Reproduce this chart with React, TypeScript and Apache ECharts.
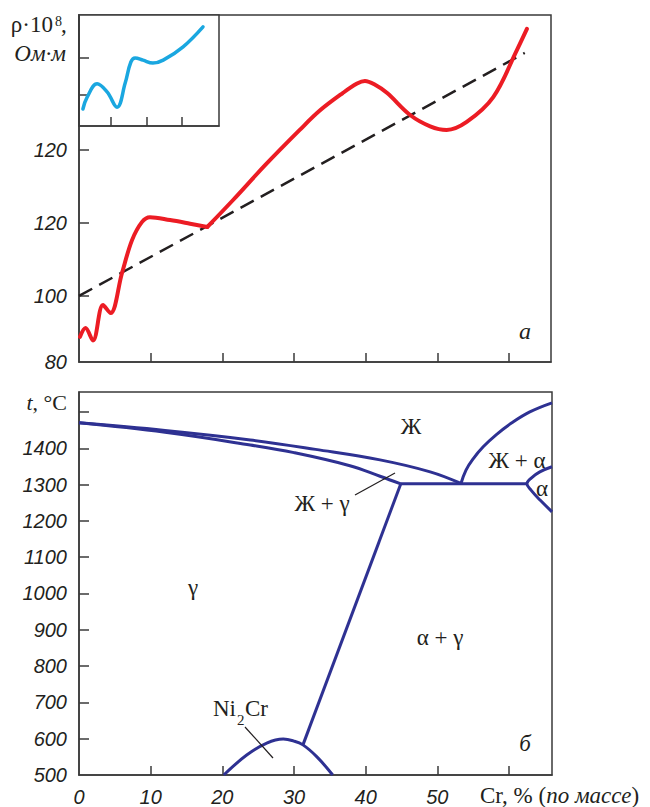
import React, { useEffect, useRef } from "react";
import * as echarts from "echarts";

// ---- Data ----
// Resistivity ρ·10^8 (Ом·м) vs Cr, mass %
const rhoCurveA: [number, number][] = [
  [0.14, 88.8], [0.9, 91.2], [1.95, 87.8], [3.35, 97.5], [4.4, 95.3], [6.0, 106.3],
  [7.4, 115.3], [8.8, 120.3], [9.9, 121.6], [12.7, 120.8], [15.5, 119.8], [17.9, 118.9],
];
const rhoCurveB: [number, number][] = [
  [17.9, 118.9], [21.5, 126.3], [26.0, 135.9], [30.8, 145.5], [33.6, 150.8], [36.8, 155.6],
  [38.8, 158.2], [39.9, 158.9], [41.2, 158.0], [43.0, 155.6], [46.2, 149.6], [49.0, 146.5],
  [51.3, 145.5], [54.1, 147.7], [57.8, 154.5], [61.1, 167.4], [62.5, 173.2],
];
const rhoTrend: [number, number][] = [[0, 100], [62.2, 166.6]];
// inset curve (relative units)
const insetCurve: [number, number][] = [
  [0.11, 0.46], [0.23, 0.78], [0.51, 1.14], [0.79, 0.92], [1.07, 0.51], [1.3, 1.16],
  [1.46, 1.73], [1.58, 1.84], [1.8, 1.78], [2.08, 1.7], [2.37, 1.78], [2.93, 2.14], [3.49, 2.68],
];
// Phase diagram Ni–Cr, t °C vs Cr mass %
const liquidusGamma: [number, number][] = [
  [0, 1470], [12, 1449], [23.9, 1423], [33, 1397], [42, 1368], [49, 1335], [53.3, 1303],
];
const solidusGamma: [number, number][] = [
  [0, 1470], [12, 1444], [23.9, 1409], [30, 1388], [37.8, 1352], [42, 1323], [44.9, 1302],
];
const eutecticLine: [number, number][] = [[44.9, 1302], [62.4, 1302]];
const liquidusAlpha: [number, number][] = [
  [53.3, 1303], [54.0, 1340], [55.0, 1371], [56.4, 1404], [58.2, 1437], [60.4, 1470],
  [62.9, 1500], [66, 1525],
];
const solvusAlpha: [number, number][] = [
  [66, 1349], [64.3, 1335], [63.1, 1318], [62.5, 1302], [63.1, 1284], [64.3, 1258], [66, 1225],
];
const solvusGamma: [number, number][] = [[44.9, 1302], [31.25, 583]];
const ni2crDome: [number, number][] = [
  [20.2, 500], [23.4, 555], [26.2, 588], [28.5, 599], [29.9, 594], [31.25, 583], [33.2, 550], [35.4, 500],
];
// tick labels
const rhoTickValues = [100, 120, 140];
const rhoLabelValues = [81.9, 100, 120, 140];
const rhoLabelTexts = ["80", "100", "120", "120"];
const crLabelValues = [0, 10, 20, 30, 40, 50];
const crTickValues = [10, 20, 30, 40, 50, 60];
const tLabelValues = [500, 600, 700, 800, 900, 1000, 1100, 1200, 1300, 1400];
const tTickValues = [600, 700, 800, 900, 1000, 1100, 1200, 1300, 1400, 1500];

const INK = "#231f20";
const FRAME = "#3a3a3a";
const NAVY = "#2e3192";
const SANS = "'Liberation Sans', Arial, sans-serif";
const SERIF = "'Liberation Serif', 'Times New Roman', serif";

const tickLabelStyle = {
  color: INK,
  fontFamily: SANS,
  fontStyle: "italic" as const,
  fontSize: 20,
};

function App() {
  const ref = useRef<HTMLDivElement>(null);
  useEffect(() => {
    if (!ref.current) return;
    const chart = echarts.init(ref.current, undefined, { renderer: "svg" });

    const axisLine = { show: true, lineStyle: { color: FRAME, width: 1.5 } };
    const tick = (vals: number[], len = 10) => ({
      show: true,
      inside: true,
      length: len,
      customValues: vals,
      lineStyle: { color: FRAME, width: 1.5 },
    });

    const phaseSeries = (data: [number, number][], smooth: number | boolean = 0.4) => ({
      type: "line" as const,
      xAxisIndex: 2,
      yAxisIndex: 2,
      data,
      smooth,
      symbol: "none",
      lineStyle: { color: NAVY, width: 3 },
      silent: true,
    });

    const text = (
      t: string,
      x: number,
      y: number,
      opts: Record<string, unknown> = {}
    ) => ({
      type: "text" as const,
      x,
      y,
      z: 100,
      style: {
        text: t,
        fill: INK,
        fontFamily: SERIF,
        fontSize: 23,
        align: "center",
        verticalAlign: "middle",
        ...opts,
      },
    });

    const richTitle = (t: string, x: number, y: number, align: string, size: number) => ({
      type: "text" as const,
      x,
      y,
      z: 100,
      style: {
        text: t,
        align,
        verticalAlign: "middle",
        rich: {
          i: { fontFamily: SERIF, fontStyle: "italic", fontSize: size, lineHeight: size, fill: INK },
          r: { fontFamily: SERIF, fontSize: size, lineHeight: size, fill: INK },
        },
      },
    });

    const option: any = {
      animation: false,
      backgroundColor: "#ffffff",
      grid: [
        { left: 79, top: 15, width: 472, height: 347, show: true, borderColor: FRAME, borderWidth: 1.5, backgroundColor: "transparent", containLabel: false, outerBoundsMode: "none" },
        { left: 79, top: 15, width: 140, height: 111, show: true, borderColor: FRAME, borderWidth: 1.5, backgroundColor: "#ffffff", containLabel: false, outerBoundsMode: "none" },
        { left: 79, top: 392, width: 473, height: 383, show: true, borderColor: FRAME, borderWidth: 1.5, backgroundColor: "transparent", containLabel: false, outerBoundsMode: "none" },
      ],
      xAxis: [
        {
          gridIndex: 0, type: "value", min: 0, max: 65.86,
          axisLine, axisTick: tick(crTickValues, 9), axisLabel: { show: false }, splitLine: { show: false },
        },
        {
          gridIndex: 1, type: "value", min: 0, max: 3.94,
          axisLine, axisTick: tick([0.9, 1.9, 2.9], 9), axisLabel: { show: false }, splitLine: { show: false },
        },
        {
          gridIndex: 2, type: "value", min: 0, max: 66,
          axisLine, axisTick: tick(crTickValues, 9),
          axisLabel: { ...tickLabelStyle, margin: 12, customValues: crLabelValues, formatter: (v: number) => String(Math.round(v)) },
          splitLine: { show: false },
        },
      ],
      yAxis: [
        {
          gridIndex: 0, type: "value", min: 81.9, max: 177,
          axisLine, axisTick: tick(rhoTickValues),
          axisLabel: {
            ...tickLabelStyle, margin: 12, customValues: rhoLabelValues,
            formatter: (v: number) => {
              let best = 0;
              rhoLabelValues.forEach((lv, i) => {
                if (Math.abs(lv - v) < Math.abs(rhoLabelValues[best] - v)) best = i;
              });
              return rhoLabelTexts[best];
            },
          },
          splitLine: { show: false },
        },
        {
          gridIndex: 1, type: "value", min: 0, max: 3,
          axisLine, axisTick: tick([0.84, 1.84]), axisLabel: { show: false }, splitLine: { show: false },
        },
        {
          gridIndex: 2, type: "value", min: 500, max: 1555,
          axisLine, axisTick: tick(tTickValues),
          axisLabel: { ...tickLabelStyle, margin: 12, customValues: tLabelValues, formatter: (v: number) => String(Math.round(v)) },
          splitLine: { show: false },
        },
      ],
      series: [
        {
          type: "line", xAxisIndex: 0, yAxisIndex: 0, data: rhoTrend, symbol: "none", silent: true,
          lineStyle: { color: INK, width: 2.5, type: [15, 8] },
        },
        {
          type: "line", xAxisIndex: 0, yAxisIndex: 0, data: rhoCurveA, smooth: 0.35, symbol: "none", silent: true,
          lineStyle: { color: "#ec1c24", width: 4, cap: "round", join: "round" },
        },
        {
          type: "line", xAxisIndex: 0, yAxisIndex: 0, data: rhoCurveB, smooth: 0.35, symbol: "none", silent: true,
          lineStyle: { color: "#ec1c24", width: 4, cap: "round", join: "round" },
        },
        {
          type: "line", xAxisIndex: 1, yAxisIndex: 1, data: insetCurve, smooth: 0.4, symbol: "none", silent: true,
          lineStyle: { color: "#1aa7e0", width: 3.5, cap: "round" },
        },
        phaseSeries(liquidusGamma),
        phaseSeries(solidusGamma),
        phaseSeries(eutecticLine, false),
        phaseSeries(liquidusAlpha),
        phaseSeries(solvusAlpha),
        phaseSeries(solvusGamma, false),
        phaseSeries(ni2crDome),
      ],
      graphic: [
        // Y axis title, top
        text("ρ·10", 53, 36, { align: "right", verticalAlign: "bottom", fontSize: 23 }),
        text("8", 55, 21, { align: "left", fontSize: 14 }),
        text(",", 61, 36, { align: "left", verticalAlign: "bottom", fontSize: 23 }),
        text("Ом·м", 66, 65, { align: "right", verticalAlign: "bottom", fontStyle: "italic", fontSize: 23 }),
        text("а", 525, 331, { fontStyle: "italic", fontSize: 24 }),
        // axis titles
        richTitle("{i|t}{r|, °C}", 67, 402, "right", 22),
        richTitle("{r|Cr, % (}{i|по массе}{r|)}", 480, 795, "left", 23),
        // phase region labels
        text("Ж", 411, 426),
        text("Ж + α", 517, 460),
        text("α", 542, 488),
        text("Ж + γ", 322, 503),
        text("γ", 193, 587),
        text("α + γ", 440, 637),
        text("Ni", 236, 708, { align: "right" }),
        text("2", 237, 720, { align: "left", fontSize: 15 }),
        text("Cr", 245, 708, { align: "left" }),
        text("б", 525, 743, { fontStyle: "italic", fontSize: 23 }),
        // leader lines
        { type: "line", z: 100, shape: { x1: 355, y1: 495, x2: 395, y2: 473 }, style: { stroke: INK, lineWidth: 1.2 } },
        { type: "line", z: 100, shape: { x1: 245, y1: 727, x2: 273, y2: 758 }, style: { stroke: INK, lineWidth: 1.2 } },
      ],
    };

    chart.setOption(option);
    return () => chart.dispose();
  }, []);

  return (
    <div
      ref={ref}
      style={{ position: "fixed", left: 0, top: 0, width: 650, height: 807, background: "#fff" }}
    />
  );
}

export default App;
